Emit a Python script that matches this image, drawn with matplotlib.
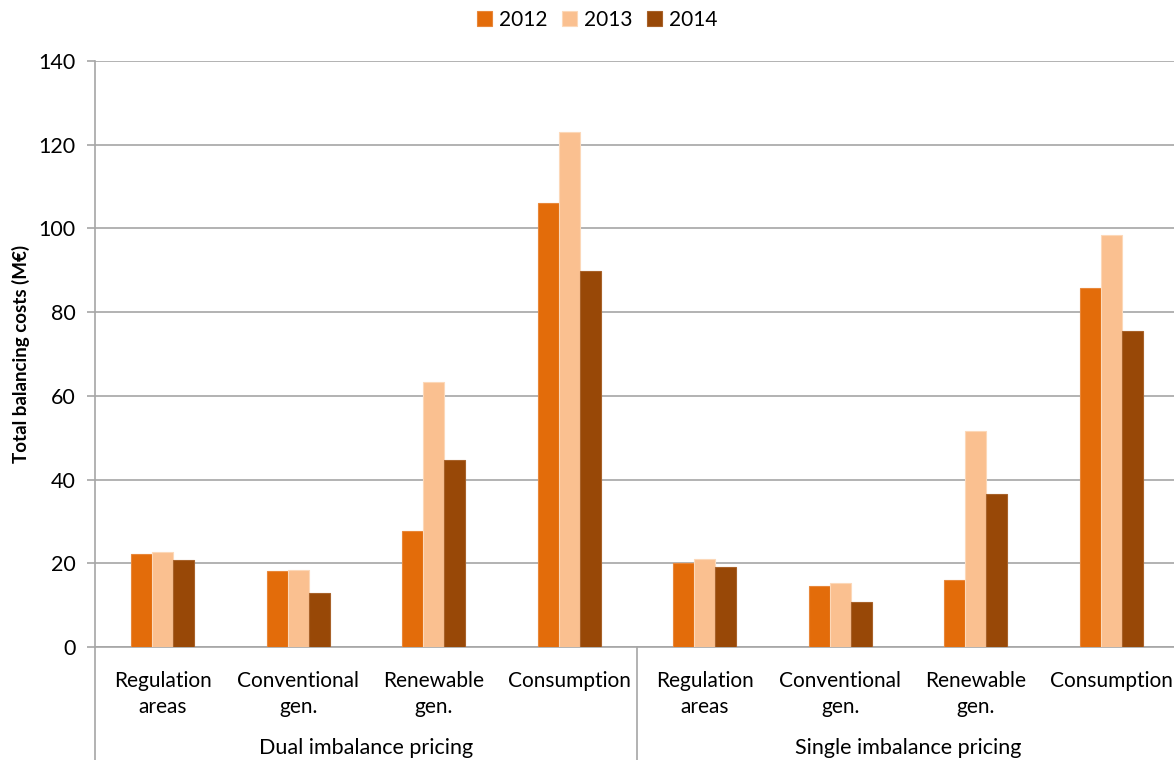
import numpy as np
import matplotlib
matplotlib.use("Agg")
import matplotlib.pyplot as plt
import matplotlib.transforms as mtransforms

# Total balancing costs per market party group (M€)
categories = ['Regulation\nareas', 'Conventional\ngen.', 'Renewable\ngen.', 'Consumption'] * 2
groups = ['Dual imbalance pricing', 'Single imbalance pricing']
years = ['2012', '2013', '2014']
costs_2012 = [22.1, 18.1, 27.7, 106.1, 20.1, 14.6, 16.0, 85.8]
costs_2013 = [22.7, 18.4, 63.4, 123.0, 21.0, 15.2, 51.5, 98.4]
costs_2014 = [20.7, 12.9, 44.6, 89.8, 19.2, 10.8, 36.6, 75.6]
colors = ['#E36C0A', '#FAC090', '#984807']
edges = ['#E8873A', '#FCD8B8', '#A8622A']

plt.rcParams['font.family'] = ['Lato', 'DejaVu Sans']

W, H = 1174, 760
fig = plt.figure(figsize=(W / 100, H / 100), dpi=100)
ax = fig.add_axes([95 / W, (H - 647) / H, (1179 - 95) / W, (647 - 61) / H])

x = np.arange(len(categories))
width = 0.156
for i, (vals, c, ec, yr) in enumerate(zip([costs_2012, costs_2013, costs_2014], colors, edges, years)):
    ax.bar(x + (i - 1) * width, vals, width, color=c, edgecolor=ec, linewidth=0.8, label=yr, zorder=3)

ax.set_xlim(-0.5, len(categories) - 0.5)
ax.set_ylim(0, 140)
ax.set_yticks(range(0, 141, 20))
ax.yaxis.grid(True, color='#A6A6A6', linewidth=1.2, zorder=0)
ax.tick_params(axis='y', length=6, width=1.2, color='#A6A6A6', labelsize=15.5, pad=8)
ax.tick_params(axis='x', length=0, labelsize=15, pad=17)
ax.set_xticks(x)
ax.set_xticklabels(categories, linespacing=1.4)
for s in ['top', 'right']:
    ax.spines[s].set_visible(False)
for s in ['left', 'bottom']:
    ax.spines[s].set_color('#A6A6A6')
    ax.spines[s].set_linewidth(1.2)

# separators of the two-level category axis
trans = mtransforms.blended_transform_factory(ax.transData, ax.transAxes)
ax.plot([-0.5, -0.5], [0, -0.2], transform=trans, color='#A6A6A6', lw=1.2, clip_on=False)
ax.plot([3.5, 3.5], [0, -0.2], transform=trans, color='#A6A6A6', lw=1.2, clip_on=False)
for g, name in enumerate(groups):
    ax.text(1.5 + 4 * g, -(748 - 647) / (647 - 61), name, transform=trans,
            ha='center', va='center', fontsize=15.5)

ax.set_ylabel('Total balancing costs (M€)', fontsize=13.5, fontweight='bold', labelpad=6)

fig.legend(loc='center', bbox_to_anchor=(597 / W, 1 - 20 / H), ncol=3, frameon=False,
           fontsize=15, handlelength=0.75, handleheight=0.75, handletextpad=0.3,
           columnspacing=0.7)

fig.savefig('out.png', dpi=100)
